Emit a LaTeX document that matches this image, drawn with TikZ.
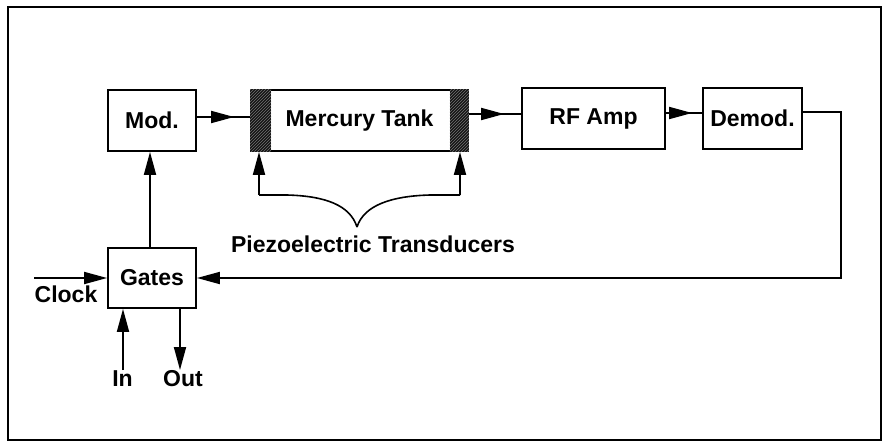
\documentclass[tikz,border=0pt]{standalone}
\usepackage{fontspec}
\setmainfont{Liberation Sans}
\usetikzlibrary{arrows.meta,decorations.markings,patterns}
\begin{document}
\begin{tikzpicture}[x=1pt,y=-1pt,
  box/.style={draw,line width=1.8pt,inner sep=0pt,font=\fontsize{23}{26}\selectfont\bfseries},
  lbl/.style={font=\fontsize{23}{26}\selectfont\bfseries,inner sep=0pt},
  wire/.style={line width=1.8pt},
  tip/.style={-{Triangle[length=23pt,width=12pt]}},
  midtip/.style={postaction={decorate},decoration={markings,mark=at position -#1 with {\arrow{Triangle[length=23pt,width=12pt]}}}},
  hatch/.style={fill=black!92,postaction={pattern=north east lines,pattern color=black!55}}
]
\useasboundingbox (0,0) rectangle (885,442);
\draw[line width=2pt] (8,7) rectangle (881,440);

\node[box,minimum width=88pt,minimum height=61pt] (mod) at (152,120.5) {Mod.};
\node[box,minimum width=217pt,minimum height=61pt] (tank) at (359.5,120.5) {Mercury Tank};
\node[box,minimum width=143pt,minimum height=61pt] (rf) at (593.5,118.5) {RF Amp};
\node[box,minimum width=99pt,minimum height=61pt] (demod) at (752.5,118.5) {Demod.};
\node[box,minimum width=88pt,minimum height=60pt] (gates) at (152,278) {Gates};

% transducer ends
\path[hatch] (tank.north west) rectangle ([xshift=21pt]tank.south west);
\path[hatch] ([xshift=-19pt]tank.north east) rectangle (tank.south east);

% main chain
\draw[wire,midtip=16pt] ([yshift=3.5pt]mod.east) coordinate (m1) -- (m1 -| tank.west);
\draw[wire,midtip=17pt] ([yshift=6.5pt]tank.east) coordinate (t1) -- (t1 -| rf.west);
\draw[wire,midtip=10pt] ([yshift=5.5pt]rf.east) coordinate (r1) -- (r1 -| demod.west);

% feedback loop
\coordinate (loopc) at (841,278);
\draw[wire,tip] ([yshift=6.5pt]demod.east) -| (loopc) -- (gates.east);

% gates to mod
\draw[wire,tip] ([xshift=-2pt]gates.north) -- ([xshift=-2pt]mod.south);

% clock
\coordinate (clk) at (34,278);
\draw[wire,tip] (clk) -- (gates.west);
\node[lbl,anchor=base] (clocklbl) at (66,302) {Clock};

% in / out
\coordinate (inp) at (123,370);
\coordinate (outp) at (180,370);
\draw[wire,tip] (inp) -- (inp |- gates.south);
\draw[wire,tip] (outp |- gates.south) -- (outp);
\node[lbl,anchor=base] (inlbl) at (122.5,386) {In};
\node[lbl,anchor=base] (outlbl) at (183,386) {Out};

% transducer brace
\coordinate (bl) at (259,195);
\coordinate (br) at (460,195);
\coordinate (btip) at (357,227);
\draw[wire,tip] (bl) -- (bl |- tank.south);
\draw[wire,tip] (br) -- (br |- tank.south);
\draw[line width=1.6pt] (bl) -- (287,195) .. controls (325,196) and (350,205) .. (btip);
\draw[line width=1.6pt] (br) -- (430,195) .. controls (392,196) and (364,205) .. (btip);
\node[lbl,anchor=base] (pz) at (373,252) {Piezoelectric Transducers};
\end{tikzpicture}
\end{document}
